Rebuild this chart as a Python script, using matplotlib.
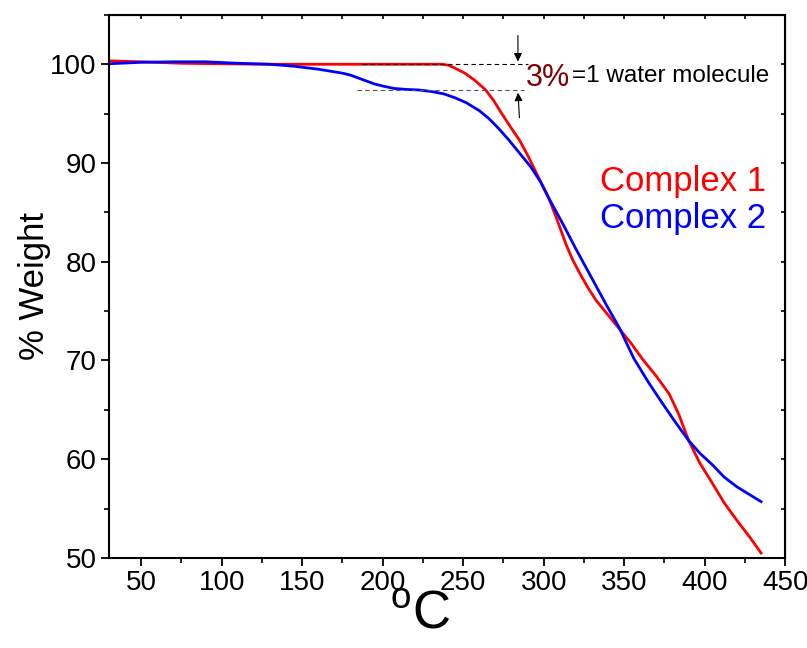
import matplotlib
matplotlib.use('Agg')
import matplotlib.pyplot as plt
from matplotlib.ticker import MultipleLocator

plt.rcParams['font.family'] = ['Liberation Sans', 'DejaVu Sans']
plt.rcParams['mathtext.fontset'] = 'custom'
plt.rcParams['mathtext.rm'] = 'Liberation Sans'

# TGA curves (temperature in C, weight in %)
temp_1 = [30, 50, 75, 100, 130, 200, 237, 241, 245, 251, 257, 264, 269, 274, 280,
          285, 290, 296, 303, 308, 314, 318, 322.5, 327, 332.5, 339, 346, 354, 362,
          370, 378, 384, 390, 397, 405, 412, 420, 428, 435]
weight_1 = [100.35, 100.25, 100.1, 100.05, 100.0, 100.0, 100.0, 99.9, 99.6, 99.1,
            98.4, 97.4, 96.3, 95.0, 93.5, 92.3, 90.8, 88.8, 86.5, 84.4, 81.7, 80.2,
            78.8, 77.5, 76.1, 74.8, 73.4, 71.8, 70.0, 68.4, 66.6, 64.5, 61.9, 59.6,
            57.5, 55.6, 53.8, 52.1, 50.5]

temp_2 = [30, 50, 70, 90, 110, 130, 145, 160, 175, 180, 185, 190, 195, 200, 207,
          215, 222, 230, 238, 245, 252, 260, 266, 272, 278, 285, 292, 298, 303, 312,
          320, 331, 339, 347, 356, 365, 374, 382, 390, 397, 405, 412, 420, 428, 435]
weight_2 = [100.05, 100.2, 100.25, 100.25, 100.1, 100.0, 99.8, 99.5, 99.1, 98.9,
            98.6, 98.3, 98.0, 97.8, 97.55, 97.45, 97.4, 97.25, 97.0, 96.6, 96.1,
            95.3, 94.5, 93.5, 92.4, 91.0, 89.6, 88.1, 86.5, 83.8, 81.3, 78.0, 75.6,
            73.3, 70.2, 67.8, 65.6, 63.7, 61.9, 60.6, 59.4, 58.2, 57.2, 56.4, 55.7]

labels = ['Complex 1', 'Complex 2']
colors = ['#ff0000', '#0000ff']

fig = plt.figure(figsize=(8.07, 6.48), dpi=100)
ax = fig.add_axes([0.135, 0.139, 0.838, 0.838])

ax.plot(temp_1, weight_1, color=colors[0], lw=2)
ax.plot(temp_2, weight_2, color=colors[1], lw=2)

ax.set_xlim(30, 450)
ax.set_ylim(50, 105)

# axis styling
for s in ax.spines.values():
    s.set_linewidth(1.5)
ax.xaxis.set_major_locator(MultipleLocator(50))
ax.xaxis.set_minor_locator(MultipleLocator(25))
ax.yaxis.set_major_locator(MultipleLocator(10))
ax.yaxis.set_minor_locator(MultipleLocator(5))
ax.tick_params(which='major', direction='out', length=6, width=1.3, labelsize=20, pad=3)
ax.tick_params(which='minor', direction='out', length=3.5, width=1.2)

top = ax.secondary_xaxis('top')
top.xaxis.set_major_locator(MultipleLocator(25))
top.tick_params(direction='in', length=3, width=1.2, labeltop=False)
right = ax.secondary_yaxis('right')
right.yaxis.set_major_locator(MultipleLocator(5))
right.tick_params(direction='in', length=3, width=1.2, labelright=False)

ax.set_xlabel(r'$^{\rm o}$C', fontsize=38)
ax.xaxis.set_label_coords(0.46, -0.058)
ax.set_ylabel('% Weight', fontsize=25, labelpad=-1)

# curve names
ax.text(438, 88.1, labels[0], color=colors[0], fontsize=25, ha='right', va='center')
ax.text(438, 84.4, labels[1], color=colors[1], fontsize=25, ha='right', va='center')

# water loss annotation
ax.plot([187, 290], [100, 100], color='black', lw=0.8, ls=(0, (4, 3)))
ax.plot([184, 288], [97.4, 97.4], color='#555555', lw=0.8, ls=(0, (4, 3)))
ax.annotate('', xy=(284, 100), xytext=(284, 103.2),
            arrowprops=dict(arrowstyle='-|>', color='black', lw=0.8, mutation_scale=12))
ax.annotate('', xy=(284, 97.4), xytext=(285, 94.3),
            arrowprops=dict(arrowstyle='-|>', color='black', lw=0.8, mutation_scale=12))
ax.text(289, 98.6, '3%', color='#800000', fontsize=22, ha='left', va='center')
ax.text(317.5, 98.8, '=1 water molecule', color='black', fontsize=17.5, ha='left', va='center')

fig.savefig('out.png', dpi=100)
